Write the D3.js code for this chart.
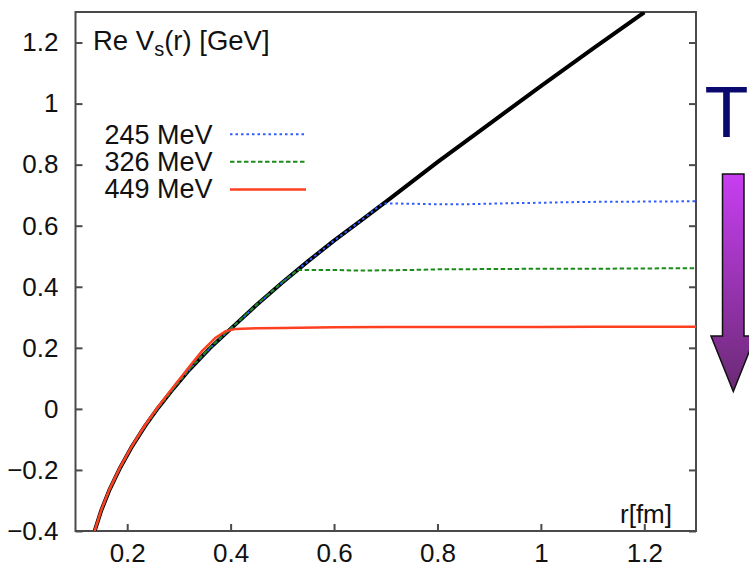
<!DOCTYPE html>
<html><head><meta charset="utf-8">
<script src="https://cdn.jsdelivr.net/npm/d3@7"></script>
<style>html,body{margin:0;padding:0;background:#fff;}svg{display:block;font-family:"Liberation Sans",Arial,sans-serif;}</style>
</head><body>
<svg id="chart" width="749" height="571"></svg>
<script>
// ---- data ----
const xTicks = [0.2, 0.4, 0.6, 0.8, 1, 1.2];
const yTicks = [-0.4, -0.2, 0, 0.2, 0.4, 0.6, 0.8, 1, 1.2];

// zero-temperature (black) potential
const rBlack = [0.137, 0.15, 0.165, 0.185, 0.21, 0.235, 0.26, 0.29, 0.32, 0.36, 0.40, 0.45, 0.50, 0.55, 0.60, 0.65, 0.70, 0.80, 0.90, 1.00, 1.10, 1.20];
const vBlack = [-0.40, -0.332, -0.268, -0.197, -0.121, -0.055, 0.004, 0.068, 0.128, 0.199, 0.262, 0.340, 0.414, 0.484, 0.551, 0.614, 0.678, 0.808, 0.933, 1.057, 1.179, 1.299];

// 245 MeV (blue dotted)
const rT245 = [0.137, 0.15, 0.165, 0.185, 0.21, 0.235, 0.26, 0.29, 0.32, 0.36, 0.40, 0.45, 0.50, 0.55, 0.60, 0.65, 0.69, 0.70, 0.75, 0.80, 0.85, 0.90, 0.95, 1.00, 1.05, 1.10, 1.20, 1.30];
const vT245 = [-0.40, -0.332, -0.268, -0.197, -0.121, -0.055, 0.004, 0.068, 0.128, 0.199, 0.262, 0.340, 0.414, 0.484, 0.551, 0.614, 0.668, 0.673, 0.672, 0.670, 0.670, 0.672, 0.674, 0.675, 0.677, 0.678, 0.679, 0.680];

// 326 MeV (green dashed)
const rT326 = [0.137, 0.15, 0.165, 0.185, 0.21, 0.235, 0.26, 0.29, 0.32, 0.36, 0.40, 0.45, 0.50, 0.53, 0.60, 0.65, 0.75, 0.80, 0.90, 1.00, 1.10, 1.20, 1.30];
const vT326 = [-0.40, -0.332, -0.268, -0.197, -0.121, -0.055, 0.004, 0.068, 0.130, 0.201, 0.263, 0.341, 0.415, 0.455, 0.455, 0.453, 0.455, 0.457, 0.458, 0.459, 0.459, 0.460, 0.461];

// 449 MeV (red solid)
const rT449 = [0.137, 0.15, 0.165, 0.185, 0.21, 0.235, 0.26, 0.29, 0.32, 0.345, 0.37, 0.39, 0.41, 0.45, 0.50, 0.60, 0.70, 0.80, 0.90, 1.00, 1.10, 1.20, 1.30];
const vT449 = [-0.40, -0.330, -0.266, -0.195, -0.119, -0.052, 0.008, 0.073, 0.138, 0.190, 0.232, 0.254, 0.262, 0.264, 0.265, 0.267, 0.268, 0.268, 0.268, 0.268, 0.269, 0.269, 0.269];

const legendLabels = ["245 MeV", "326 MeV", "449 MeV"];

// ---- drawing ----
const svg = d3.select("#chart");
const x = d3.scaleLinear().domain([0.1, 1.3]).range([75.5, 696]);
const y = d3.scaleLinear().domain([-0.4, 1.3]).range([531, 12]);

const axisColor = "#4a4a4a";

svg.append("defs").append("clipPath").attr("id", "clip")
  .append("rect").attr("x", x(0.1)).attr("y", y(1.3)).attr("width", x(1.3) - x(0.1)).attr("height", y(-0.4) - y(1.3));

// axes with inward ticks
const gx = svg.append("g").attr("transform", `translate(0,${y(-0.4)})`)
  .call(d3.axisBottom(x).tickValues(xTicks).tickSize(-7).tickPadding(13).tickFormat(d3.format("")));
const gy = svg.append("g").attr("transform", `translate(${x(0.1)},0)`)
  .call(d3.axisLeft(y).tickValues(yTicks).tickSize(-7).tickPadding(17).tickFormat(d3.format("")));
const gr = svg.append("g").attr("transform", `translate(${x(1.3)},0)`)
  .call(d3.axisRight(y).tickValues(yTicks).tickSize(-7).tickFormat(""));
[gx, gy, gr].forEach(g => {
  g.select(".domain").remove();
  g.selectAll(".tick line").attr("stroke", axisColor).attr("stroke-width", 2);
  g.selectAll(".tick text").attr("fill", "#111").style("font-size", "26px").style("font-family", '"Liberation Sans", Arial, sans-serif');
});
gx.selectAll(".tick text").attr("dy", "0.71em");

// frame
svg.append("rect").attr("x", x(0.1)).attr("y", y(1.3))
  .attr("width", x(1.3) - x(0.1)).attr("height", y(-0.4) - y(1.3))
  .attr("fill", "none").attr("stroke", axisColor).attr("stroke-width", 2);

const line = d3.line().x(d => x(d[0])).y(d => y(d[1]));
const plot = svg.append("g").attr("clip-path", "url(#clip)");

const series = [
  { r: rBlack, v: vBlack, color: "#000", width: 4, dash: null },
  { r: rT245, v: vT245, color: "#2f5cff", width: 2, dash: "2.5,3" },
  { r: rT326, v: vT326, color: "#1e8a1e", width: 2, dash: "4.5,2.5" },
  { r: rT449, v: vT449, color: "#ff4020", width: 2.5, dash: null }
];
series.forEach(s => {
  plot.append("path").datum(s.r.map((r, i) => [r, s.v[i]]))
    .attr("d", line).attr("fill", "none").attr("stroke", s.color)
    .attr("stroke-width", s.width).attr("stroke-dasharray", s.dash)
    .attr("stroke-linejoin", "round");
});

// legend
const legY = [144, 171, 198];
const legLineY = [134.3, 161.7, 189.5];
legendLabels.forEach((lab, i) => {
  const s = series[i + 1];
  svg.append("text").attr("x", 212.5).attr("y", legY[i]).attr("text-anchor", "end")
    .style("font-size", "27px").attr("fill", "#111").text(lab);
  svg.append("line").attr("x1", 230).attr("x2", 306).attr("y1", legLineY[i]).attr("y2", legLineY[i])
    .attr("stroke", s.color).attr("stroke-width", s.width).attr("stroke-dasharray", s.dash);
});

// y-label inside plot
const t = svg.append("text").attr("x", 93).attr("y", 50).style("font-size", "27.5px").attr("fill", "#111");
t.append("tspan").text("Re V");
t.append("tspan").attr("dy", 6).style("font-size", "20px").text("s");
t.append("tspan").attr("dy", -6).text("(r) [GeV]");

// x-label inside plot
svg.append("text").attr("x", 672).attr("y", 523).attr("text-anchor", "end")
  .style("font-size", "26px").attr("fill", "#111").text("r[fm]");

// T and arrow
svg.append("text").attr("x", 726.5).attr("y", 137).attr("text-anchor", "middle")
  .style("font-size", "72px").attr("fill", "#0a0a6e").text("T");

const grad = svg.select("defs").append("linearGradient").attr("id", "ag")
  .attr("x1", 0).attr("y1", 0).attr("x2", 0).attr("y2", 1);
grad.append("stop").attr("offset", "0%").attr("stop-color", "#c83ef2");
grad.append("stop").attr("offset", "100%").attr("stop-color", "#6a2a74");
svg.append("path")
  .attr("d", "M722.5,174 L744,174 L744,336 L755.5,336 L733.3,391.5 L711,336 L722.5,336 Z")
  .attr("fill", "url(#ag)").attr("stroke", "#111").attr("stroke-width", 1.5).attr("stroke-linejoin", "miter");
</script>
</body></html>
